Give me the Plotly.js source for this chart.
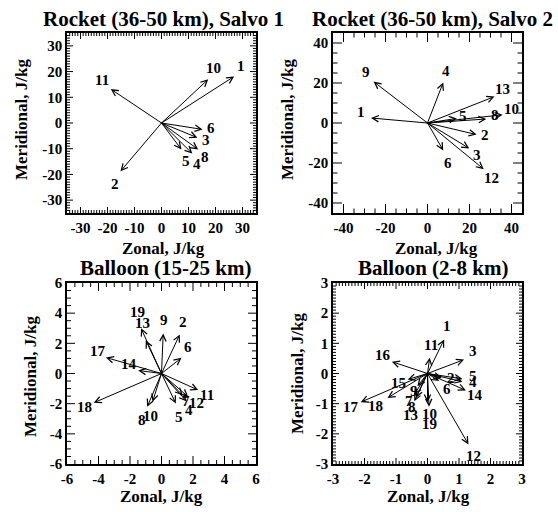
<!DOCTYPE html>
<html>
<head>
<meta charset="utf-8">
<script src="https://cdn.plot.ly/plotly-3.0.1.min.js"></script>
<style>html,body{margin:0;padding:0;background:#fff;}#chart{width:558px;height:512px;}</style>
</head>
<body>
<div id="chart"></div>
<script>
// ---- Data ----
const p1_id = ['1','2','3','4','5','6','8','10','11'];
const p1_u  = [26.9, -15.2, 13.3, 11.4, 7.4, 15.2, 13.6, 17.3, -18.8];
const p1_v  = [18.1, -18.8, -5.7, -11.9, -10.3, -2.5, -10.3, 17.0, 13.2];
const p1_lx = [29.3, -17.3, 16.4, 13.3, 9.0, 18.3, 16.0, 19.4, -21.9];
const p1_ly = [22.2, -23.6, -6.5, -15.9, -14.8, -1.9, -13.4, 21.3, 16.6];

const p2_id = ['1','2','3','4','5','6','8','9','10','12','13'];
const p2_u  = [-26.9, 23.4, 19.9, 7.5, 14.0, 7.5, 28.0, -25.7, 35.8, 26.8, 31.9];
const p2_v  = [2.5, -5.8, -12.7, 20.3, 2.3, -13.7, 2.0, 20.7, 4.1, -23.1, 13.2];
const p2_lx = [-31.5, 27.6, 23.7, 8.6, 17.1, 9.8, 32.2, -29.1, 40.2, 30.4, 35.8];
const p2_ly = [5.3, -5.8, -16.0, 26.0, 3.6, -20.2, 4.1, 25.6, 7.1, -27.3, 17.0];

const p3_id = ['2','4','5','6','7','8','9','10','11','12','13','14','17','18','19'];
const p3_u  = [1.16, 1.6, 0.91, 1.27, 1.35, -0.91, 0.11, -0.57, 2.33, 1.7, -1.0, -1.48, -3.53, -4.30, -1.3];
const p3_v  = [2.59, -1.85, -1.99, 1.04, -1.45, -2.21, 2.65, -1.88, -1.10, -1.55, 2.2, 0.2, 1.06, -1.94, 3.0];
const p3_lx = [1.38, 1.75, 1.12, 1.69, 1.55, -1.21, 0.15, -0.70, 2.86, 2.25, -1.2, -2.05, -4.06, -4.87, -1.52];
const p3_ly = [3.43, -2.45, -2.89, 1.75, -1.85, -3.09, 3.58, -2.83, -1.41, -1.95, 3.36, 0.6, 1.52, -2.23, 4.07];

const p4_id = ['1','2','3','4','5','6','7','8','9','10','11','12','13','14','15','16','17','18','19'];
const p4_u  = [0.53, 0.45, 1.16, 1.11, 1.11, 0.37, -0.42, -0.37, -0.32, 0.0, 0.07, 1.30, -0.42, 1.22, -0.63, -1.13, -2.12, -1.27, 0.05];
const p4_v  = [1.13, -0.15, 0.46, -0.27, -0.18, -0.25, -0.70, -0.81, -0.42, -0.95, 0.52, -2.35, -0.92, -0.56, -0.20, 0.39, -0.95, -0.81, -1.10];
const p4_lx = [0.63, 0.74, 1.43, 1.45, 1.45, 0.63, -0.60, -0.48, -0.42, 0.05, 0.11, 1.45, -0.55, 1.51, -0.92, -1.41, -2.43, -1.66, 0.05];
const p4_ly = [1.57, -0.15, 0.74, -0.28, -0.07, -0.51, -0.92, -1.10, -0.59, -1.33, 0.96, -2.74, -1.39, -0.72, -0.31, 0.63, -1.12, -1.08, -1.67];

const titles = ['Rocket (36-50 km), Salvo 1', 'Rocket (36-50 km), Salvo 2', 'Balloon (15-25 km)', 'Balloon (2-8 km)'];
const xTitle = 'Zonal, J/kg';
const yTitle = 'Meridional, J/kg';
const p1_ticks = [-30, -20, -10, 0, 10, 20, 30];
const p2_ticks = [-40, -20, 0, 20, 40];
const p3_ticks = [-6, -4, -2, 0, 2, 4, 6];
const p4_ticks = [-3, -2, -1, 0, 1, 2, 3];

const W = 558, H = 512;
const px = x => x / W;
const py = y => 1 - y / H;
const FONT = 'Liberation Serif, Times New Roman, Times, serif';

const panels = [
  {id: p1_id, u: p1_u, v: p1_v, lx: p1_lx, ly: p1_ly, ticks: p1_ticks, lim: 35, minor: 1, tl: 6, mtl: 3,
   dom: [67, 256, 33, 213], title: [163, 19], xt: [163, 248], yt: [21, 120], shapesTicks: true},
  {id: p2_id, u: p2_u, v: p2_v, lx: p2_lx, ly: p2_ly, ticks: p2_ticks, lim: 45, minor: 5, tl: 9, mtl: 4.5,
   dom: [333, 522, 33, 213], title: [432, 19], xt: [436, 248], yt: [287, 120], shapesTicks: true},
  {id: p3_id, u: p3_u, v: p3_v, lx: p3_lx, ly: p3_ly, ticks: p3_ticks, lim: 6, minor: 0.5, tl: 8, mtl: 4,
   dom: [67, 256, 283, 464], title: [166, 268], xt: [161, 496], yt: [30, 377], shapesTicks: true},
  {id: p4_id, u: p4_u, v: p4_v, lx: p4_lx, ly: p4_ly, ticks: p4_ticks, lim: 3, minor: 0.1, tl: 6, mtl: 3,
   dom: [333, 522, 283, 464], title: [433, 268], xt: [428, 496], yt: [297, 374], shapesTicks: true}
];

const data = [];
const layout = {
  width: W, height: H,
  margin: {l: 0, r: 0, t: 0, b: 0},
  paper_bgcolor: '#ffffff', plot_bgcolor: '#ffffff',
  showlegend: false,
  font: {family: FONT, color: '#000'},
  annotations: [],
  shapes: []
};

function tickShapes(p, xa, ya) {
  const wpx = p.dom[1] - p.dom[0], hpx = p.dom[3] - p.dom[2];
  const nMin = Math.round(2 * p.lim / p.minor);
  const list = [];
  for (let k = 0; k <= nMin; k++) {
    const t = +(-p.lim + k * p.minor).toFixed(6);
    const isMajor = p.ticks.some(v => Math.abs(v - t) < 1e-6);
    if (Math.abs(Math.abs(t) - p.lim) < 1e-6) continue;
    list.push({t: t, major: isMajor});
  }
  p.ticks.forEach(v => { if (!list.some(o => Math.abs(o.t - v) < 1e-6) && Math.abs(Math.abs(v) - p.lim) > 1e-6) list.push({t: v, major: true}); });
  const line = {color: '#000', width: 1};
  list.forEach(o => {
    const lx = (o.major ? p.tl : p.mtl) / hpx; // fraction of y-domain for x-ticks
    const ly = (o.major ? p.tl : p.mtl) / wpx; // fraction of x-domain for y-ticks
    // bottom & top ticks on x axis
    layout.shapes.push({type: 'line', xref: xa, yref: ya + ' domain', x0: o.t, x1: o.t, y0: 0, y1: lx, line: line, layer: 'above'});
    layout.shapes.push({type: 'line', xref: xa, yref: ya + ' domain', x0: o.t, x1: o.t, y0: 1 - lx, y1: 1, line: line, layer: 'above'});
    // left & right ticks on y axis
    layout.shapes.push({type: 'line', xref: xa + ' domain', yref: ya, x0: 0, x1: ly, y0: o.t, y1: o.t, line: line, layer: 'above'});
    layout.shapes.push({type: 'line', xref: xa + ' domain', yref: ya, x0: 1 - ly, x1: 1, y0: o.t, y1: o.t, line: line, layer: 'above'});
  });
}

panels.forEach((p, i) => {
  const n = i === 0 ? '' : String(i + 1);
  const xa = 'x' + n, ya = 'y' + n;
  data.push({x: [0], y: [0], xaxis: xa, yaxis: ya, type: 'scatter', mode: 'markers',
             marker: {size: 2, color: '#000'}, hoverinfo: 'skip'});
  const axCommon = {
    range: [-p.lim, p.lim], autorange: false, zeroline: false, showgrid: false,
    showline: true, linecolor: '#000', linewidth: 1.5, mirror: true,
    ticks: '', 
    tickmode: 'array', tickvals: p.ticks, ticktext: p.ticks.map(t => String(t)),
    tickangle: 0,
    tickfont: {family: FONT, size: 15, weight: 'bold', color: '#000'}
  };
  layout['xaxis' + n] = Object.assign({}, axCommon, {
    domain: [px(p.dom[0]), px(p.dom[1])], anchor: ya
  });
  layout['yaxis' + n] = Object.assign({}, axCommon, {
    domain: [py(p.dom[3]), py(p.dom[2])], anchor: xa
  });
  tickShapes(p, xa, ya);

  p.id.forEach((lab, k) => {
    layout.annotations.push({
      xref: xa, yref: ya, axref: xa, ayref: ya,
      x: p.u[k], y: p.v[k], ax: 0, ay: 0,
      text: '', showarrow: true, arrowhead: 5, arrowsize: 1.25, arrowwidth: 1,
      arrowcolor: '#000', standoff: 0, startstandoff: 0, borderpad: 0,
      font: {size: 1}
    });
    layout.annotations.push({
      xref: xa, yref: ya, x: p.lx[k], y: p.ly[k], text: lab, showarrow: false,
      xanchor: 'center', yanchor: 'middle', borderpad: 0,
      font: {family: FONT, size: 15, weight: 'bold', color: '#000'}
    });
  });

  layout.annotations.push({
    xref: 'paper', yref: 'paper', x: px(p.title[0]), y: py(p.title[1]),
    xanchor: 'center', yanchor: 'middle', showarrow: false, text: titles[i],
    font: {family: FONT, size: 21, weight: 'bold', color: '#000'}
  });
  layout.annotations.push({
    xref: 'paper', yref: 'paper', x: px(p.xt[0]), y: py(p.xt[1]),
    xanchor: 'center', yanchor: 'middle', showarrow: false, text: xTitle,
    font: {family: FONT, size: 17, weight: 'bold', color: '#000'}
  });
  layout.annotations.push({
    xref: 'paper', yref: 'paper', x: px(p.yt[0]), y: py(p.yt[1]),
    xanchor: 'center', yanchor: 'middle', showarrow: false, text: yTitle, textangle: -90,
    font: {family: FONT, size: 17, weight: 'bold', color: '#000'}
  });
});

Plotly.newPlot('chart', data, layout, {displayModeBar: false});
</script>
</body>
</html>
